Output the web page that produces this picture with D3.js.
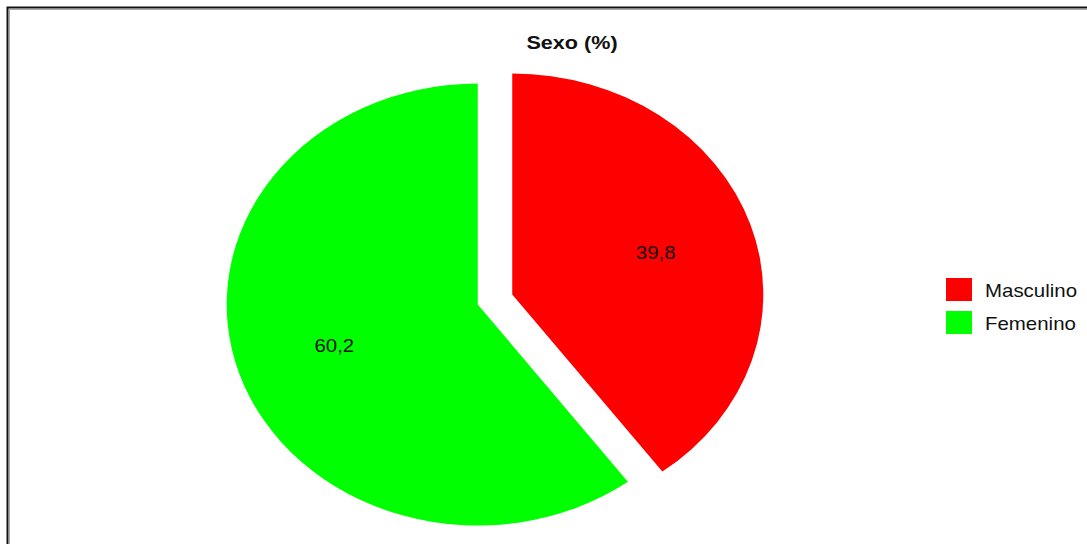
<!DOCTYPE html>
<html>
<head>
<meta charset="utf-8">
<script src="https://cdn.jsdelivr.net/npm/d3@7"></script>
<style>
  body { margin: 0; background: #fff; }
  svg { display: block; font-family: Arial, "Liberation Sans", sans-serif; }
</style>
</head>
<body>
<div id="chart-area"></div>
<script>
// Data
var categories = ["Masculino", "Femenino"];
var values = [39.8, 60.2];
var colors = ["#ff0000", "#00ff00"];
var labels = ["39,8", "60,2"];
var title = "Sexo (%)";

var width = 1087, height = 544;
// the original picture is stretched horizontally
var stretch = 1.136;
var cx = 495, cy = 299.5;
var radius = 221;
var explode = 16;
var labelR = 133;

var svg = d3.select("#chart-area")
    .append("svg")
    .attr("width", width)
    .attr("height", height);

// Frame
svg.append("rect")
    .attr("x", 7.5).attr("y", 7.5)
    .attr("width", 1200).attr("height", 700)
    .attr("fill", "none")
    .attr("stroke", "#111")
    .attr("stroke-width", 2);
svg.append("rect")
    .attr("x", 9.5).attr("y", 9.5)
    .attr("width", 1200).attr("height", 700)
    .attr("fill", "none")
    .attr("stroke", "#aaa")
    .attr("stroke-width", 1);

// Title
svg.append("text")
    .attr("transform", "translate(572,49) scale(" + stretch + ",1)")
    .attr("text-anchor", "middle")
    .attr("font-weight", "bold")
    .attr("font-size", "19px")
    .attr("fill", "#111")
    .text(title);

var pie = d3.pie().sort(null).value(function(d){ return d; });
var arcs = pie(values);
var arc = d3.arc().innerRadius(0).outerRadius(radius);

function mid(d) { return (d.startAngle + d.endAngle) / 2; }

var slices = svg.selectAll(".slice")
    .data(arcs)
    .enter()
    .append("g")
    .attr("class", "slice")
    .attr("transform", function(d){
        var a = mid(d);
        var x = cx + explode * Math.sin(a) * stretch;
        var y = cy - explode * Math.cos(a);
        return "translate(" + x + "," + y + ") scale(" + stretch + ",1)";
    });

slices.append("path")
    .attr("d", arc)
    .attr("fill", function(d, i){ return colors[i]; });

svg.selectAll(".lbl")
    .data(arcs)
    .enter()
    .append("text")
    .attr("class", "lbl")
    .attr("transform", function(d){
        var a = mid(d);
        var r = explode + labelR;
        var x = cx + r * Math.sin(a) * stretch;
        var y = cy - r * Math.cos(a) + 6;
        return "translate(" + x + "," + y + ") scale(" + stretch + ",1)";
    })
    .attr("text-anchor", "middle")
    .attr("font-size", "18px")
    .attr("fill", "#111")
    .text(function(d, i){ return labels[i]; });

// Legend
var legend = svg.selectAll(".legend")
    .data(categories)
    .enter()
    .append("g")
    .attr("class", "legend")
    .attr("transform", function(d, i){ return "translate(946," + (278 + i * 33) + ")"; });

legend.append("rect")
    .attr("width", 26)
    .attr("height", 23)
    .attr("fill", function(d, i){ return colors[i]; });

legend.append("text")
    .attr("transform", "translate(39,19) scale(" + stretch + ",1)")
    .attr("font-size", "18px")
    .attr("fill", "#111")
    .text(function(d){ return d; });
</script>
</body>
</html>
